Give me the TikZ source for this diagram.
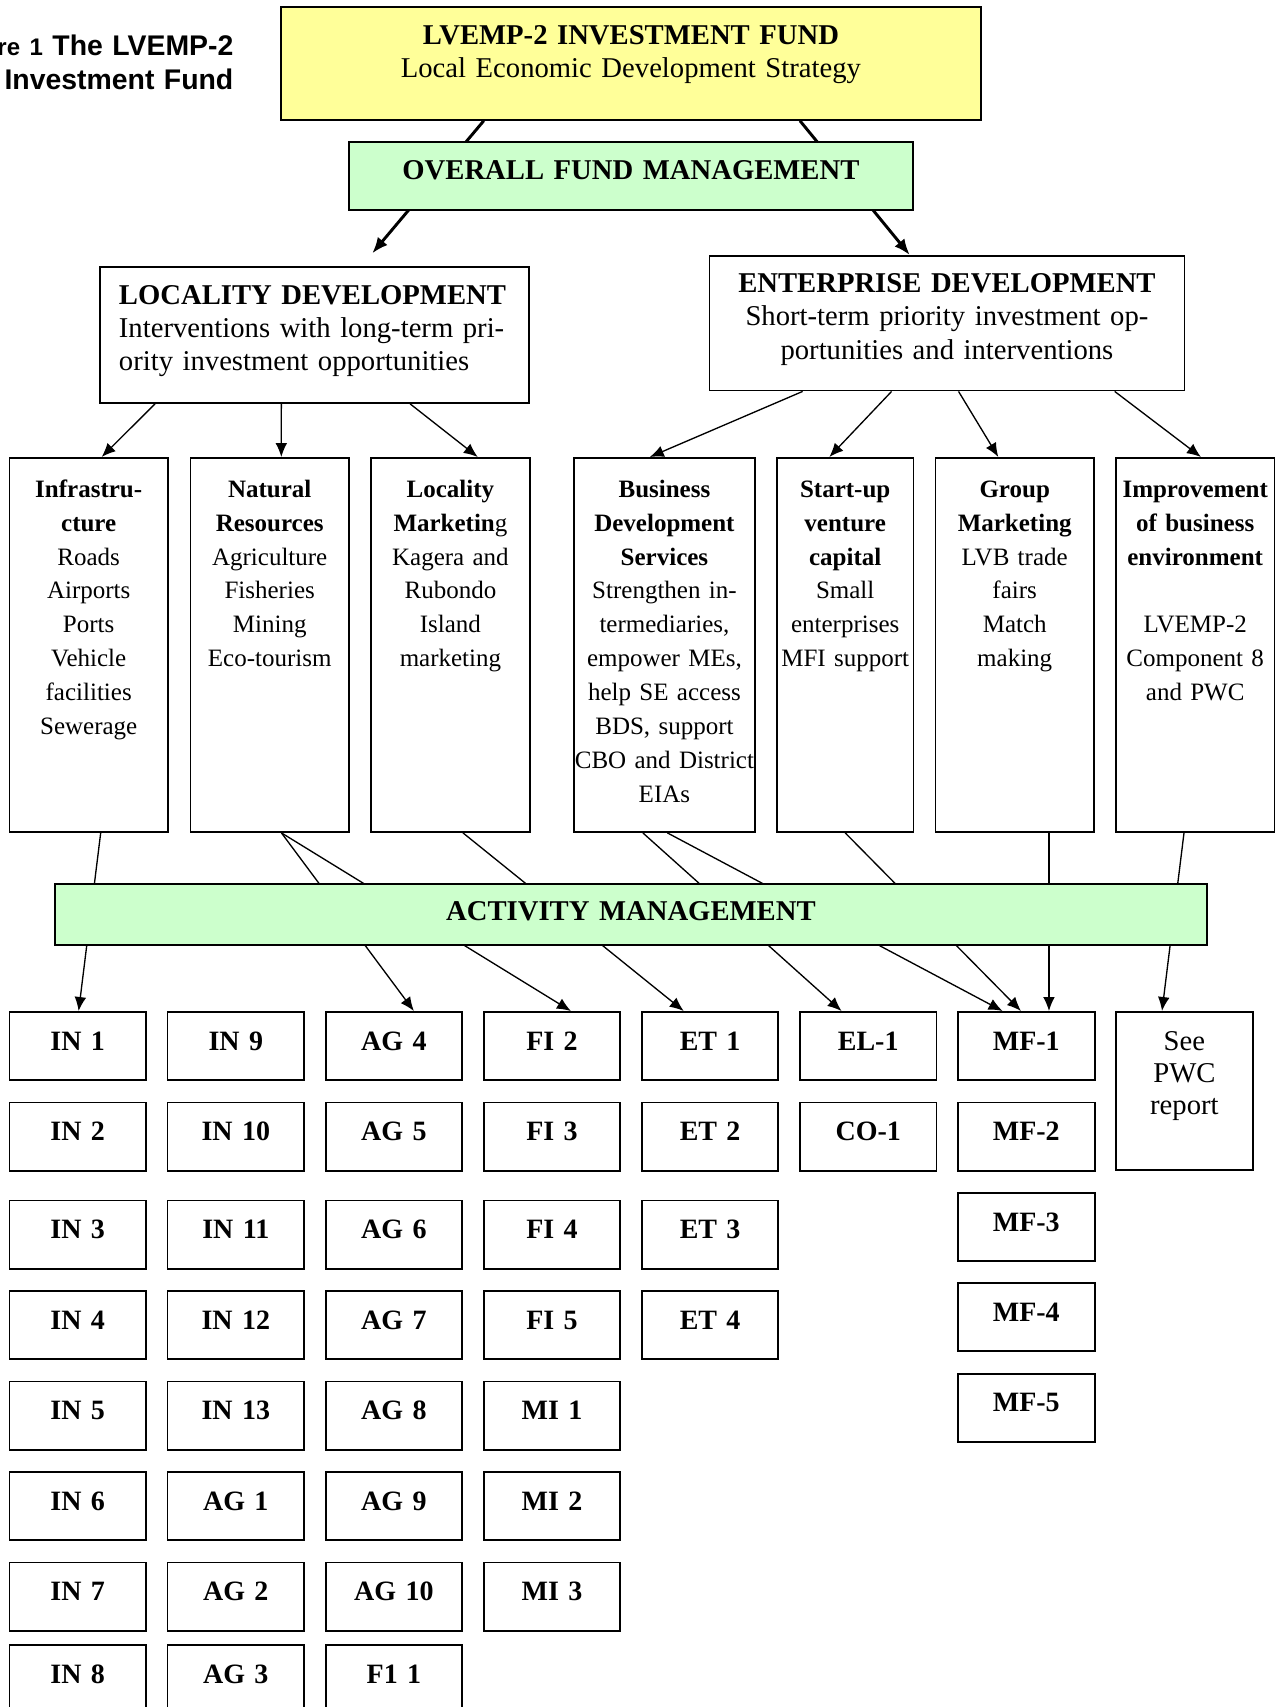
\documentclass[tikz,border=0pt]{standalone}
\usepackage{fontspec}
\setmainfont{Liberation Serif}
\newfontfamily\capfont{Liberation Sans}
\usetikzlibrary{arrows.meta}
\definecolor{fundyellow}{HTML}{FFFF99}
\definecolor{mgmtgreen}{HTML}{CCFFCC}

\begin{document}
\begin{tikzpicture}[x=0.75pt, y=-0.75pt, -{Latex[length=10.5pt, width=8.8pt]}, line width=1pt,
  box/.style={draw, line width=1.4pt, inner sep=0pt, anchor=north west, align=center},
  head/.style={box, font=\fontsize{21.5}{25}\selectfont},
  colbox/.style={box, text height=29.5pt, text depth=251pt, font=\fontsize{18.75}{25.4}\selectfont},
  leaf/.style={box, text width=102.4pt, text height=28.7pt, text depth=22.5pt, font=\fontsize{21}{25}\selectfont\bfseries},
  mainlink/.style={line width=2.2pt, -{Latex[length=12pt, width=9.5pt]}}]
	\useasboundingbox (0,0) rectangle (1282,1707);
	% caption, cut off at the left edge
	\node[anchor=base east, inner sep=0pt, text width=185pt, align=right, font=\capfont\bfseries\fontsize{21.3}{25.7}\selectfont] (cap) at (234,55)
		{{\fontsize{18}{20}\selectfont re 1} The LVEMP-2\\Investment Fund};
	\node[head, fill=fundyellow, text width=525pt, text height=28.2pt, text depth=56.5pt] (fund) at (280,6)
		{\textbf{LVEMP-2 INVESTMENT FUND}\\Local Economic Development Strategy};
	\node[head, align=left, inner xsep=14.25pt, text width=293pt, text height=28pt, text depth=74pt] (locdev) at (99,266)
		{\textbf{LOCALITY DEVELOPMENT}\\Interventions with long-term pri-\\ority investment opportunities};
	\node[head, text width=356.25pt, text height=27.5pt, text depth=73.4pt] (entdev) at (708.5,255)
		{\textbf{ENTERPRISE DEVELOPMENT}\\Short-term priority investment op-\\portunities and interventions};
	\path[mainlink] ([xshift=-110.4pt]fund.south) edge ([xshift=43.5pt, yshift=9.5pt]locdev.north);
	\path[mainlink] ([xshift=126.8pt]fund.south) edge ([xshift=-27.9pt]entdev.north);
	\node[head, fill=mgmtgreen, text width=423pt, text height=28.5pt, text depth=22.5pt] (ofm) at (348,141)
		{\textbf{OVERALL FUND MANAGEMENT}};

	% intervention areas
	\node[colbox, text width=118.9pt] (infra) at (8.5,457)
		{\textbf{Infrastru-}\\\textbf{cture}\\Roads\\Airports\\Ports\\Vehicle\\facilities\\Sewerage};
	\node[colbox, text width=118.9pt] (natres) at (189.5,457)
		{\textbf{Natural}\\\textbf{Resources}\\Agriculture\\Fisheries\\Mining\\Eco-tourism};
	\node[colbox, text width=119.25pt] (locmkt) at (370,457)
		{\textbf{Locality}\\\textbf{Marketin}g\\Kagera and\\Rubondo\\Island\\marketing};
	\node[colbox, text width=135.75pt] (bds) at (573,457)
		{\textbf{Business}\\\textbf{Development}\\\textbf{Services}\\Strengthen in-\\termediaries,\\empower MEs,\\help SE access\\BDS, support\\CBO and District\\EIAs};
	\node[colbox, text width=102.4pt] (venture) at (776,457)
		{\textbf{Start-up}\\\textbf{venture}\\\textbf{capital}\\Small\\enterprises\\MFI support};
	\node[colbox, text width=118.9pt] (grpmkt) at (934.5,457)
		{\textbf{Group}\\\textbf{Marketing}\\LVB trade\\fairs\\Match\\making};
	\node[colbox, text width=118.9pt] (busenv) at (1115,457)
		{\textbf{Improvement}\\\textbf{of business}\\\textbf{environment}\\[25.4pt]LVEMP-2\\Component 8\\and PWC};
	\path ([xshift=-119.4pt]locdev.south) edge ([xshift=9.7pt]infra.north)
	      ([xshift=-24.7pt]locdev.south) edge ([xshift=8.7pt]natres.north)
	      ([xshift=71.9pt]locdev.south) edge ([xshift=20.5pt]locmkt.north);
	\path ([xshift=-108.2pt]entdev.south) edge ([xshift=-11pt]bds.north)
	      ([xshift=-41.5pt]entdev.south) edge ([xshift=-11.9pt]venture.north)
	      ([xshift=8.7pt]entdev.south) edge ([xshift=-12.3pt]grpmkt.north)
	      ([xshift=125.8pt]entdev.south) edge ([xshift=4.3pt]busenv.north);

	% activities
	\node[leaf] (in1) at (8.5,1011) {IN 1};
	\node[leaf] (in2) at (8.5,1101.5) {IN 2};
	\node[leaf] (in3) at (8.5,1199.5) {IN 3};
	\node[leaf] (in4) at (8.5,1290) {IN 4};
	\node[leaf] (in5) at (8.5,1380.5) {IN 5};
	\node[leaf] (in6) at (8.5,1471) {IN 6};
	\node[leaf] (in7) at (8.5,1561.5) {IN 7};
	\node[leaf] (in8) at (8.5,1644) {IN 8};
	\node[leaf] (in9) at (166.6,1011) {IN 9};
	\node[leaf] (in10) at (166.6,1101.5) {IN 10};
	\node[leaf] (in11) at (166.6,1199.5) {IN 11};
	\node[leaf] (in12) at (166.6,1290) {IN 12};
	\node[leaf] (in13) at (166.6,1380.5) {IN 13};
	\node[leaf] (ag1) at (166.6,1471) {AG 1};
	\node[leaf] (ag2) at (166.6,1561.5) {AG 2};
	\node[leaf] (ag3) at (166.6,1644) {AG 3};
	\node[leaf] (ag4) at (324.7,1011) {AG 4};
	\node[leaf] (ag5) at (324.7,1101.5) {AG 5};
	\node[leaf] (ag6) at (324.7,1199.5) {AG 6};
	\node[leaf] (ag7) at (324.7,1290) {AG 7};
	\node[leaf] (ag8) at (324.7,1380.5) {AG 8};
	\node[leaf] (ag9) at (324.7,1471) {AG 9};
	\node[leaf] (ag10) at (324.7,1561.5) {AG 10};
	\node[leaf] (f11) at (324.7,1644) {F1 1};
	\node[leaf] (fi2) at (482.8,1011) {FI 2};
	\node[leaf] (fi3) at (482.8,1101.5) {FI 3};
	\node[leaf] (fi4) at (482.8,1199.5) {FI 4};
	\node[leaf] (fi5) at (482.8,1290) {FI 5};
	\node[leaf] (mi1) at (482.8,1380.5) {MI 1};
	\node[leaf] (mi2) at (482.8,1471) {MI 2};
	\node[leaf] (mi3) at (482.8,1561.5) {MI 3};
	\node[leaf] (et1) at (640.9,1011) {ET 1};
	\node[leaf] (et2) at (640.9,1101.5) {ET 2};
	\node[leaf] (et3) at (640.9,1199.5) {ET 3};
	\node[leaf] (et4) at (640.9,1290) {ET 4};
	\node[leaf] (el1) at (799,1011) {EL-1};
	\node[leaf] (co1) at (799,1101.5) {CO-1};
	\node[leaf] (mf1) at (957.1,1011) {MF-1};
	\node[leaf] (mf2) at (957.1,1101.5) {MF-2};
	\node[leaf] (mf3) at (957.1,1192) {MF-3};
	\node[leaf] (mf4) at (957.1,1282) {MF-4};
	\node[leaf] (mf5) at (957.1,1372.7) {MF-5};
	\node[leaf, text height=29.25pt, text depth=89.5pt, font=\fontsize{21.5}{23.8}\selectfont] (pwc) at (1115.2,1011)
		{See\\PWC\\report};
	\path ([xshift=9pt]infra.south) edge ([xshift=0.7pt]in1.north)
	      ([xshift=8.8pt]natres.south) edge ([xshift=15pt]ag4.north)
	      ([xshift=8.8pt]natres.south) edge ([xshift=14.2pt]fi2.north)
	      ([xshift=9.4pt]locmkt.south) edge ([xshift=-19.8pt]et1.north)
	      ([xshift=-16.2pt]bds.south) edge ([xshift=-20pt]el1.north)
	      ([xshift=2.2pt]bds.south) edge ([xshift=-17.8pt]mf1.north)
	      (venture.south) edge ([xshift=-4pt]mf1.north)
	      ([xshift=25.7pt]grpmkt.south) edge ([xshift=17pt]mf1.north)
	      ([xshift=-8.4pt]busenv.south) edge ([xshift=-16.8pt]pwc.north);
	\node[head, fill=mgmtgreen, text width=864pt, text height=27.75pt, text depth=18pt] (actmgmt) at (54,883)
		{\textbf{ACTIVITY MANAGEMENT}};
\end{tikzpicture}
\end{document}
